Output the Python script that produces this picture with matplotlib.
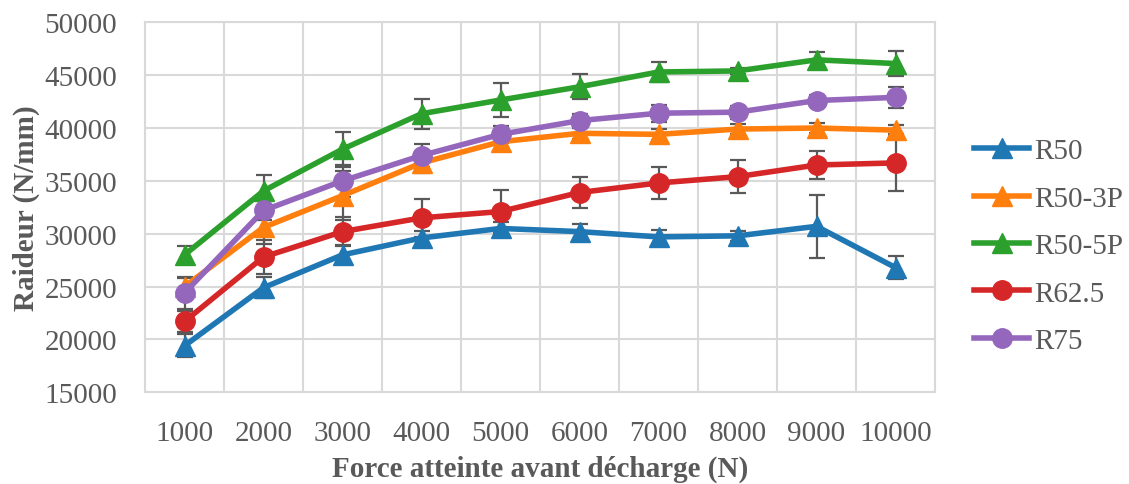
import matplotlib.pyplot as plt
import numpy as np

plt.rcParams['font.family'] = ['Liberation Serif', 'DejaVu Serif']

forces = ['1000', '2000', '3000', '4000', '5000', '6000', '7000', '8000', '9000', '10000']

r50 = [19400, 24900, 28000, 29600, 30500, 30200, 29700, 29800, 30700, 26800]
r50_3p = [25000, 30600, 33600, 36700, 38700, 39500, 39400, 39900, 40000, 39800]
r50_5p = [28000, 34050, 38000, 41350, 42650, 43900, 45300, 45400, 46450, 46100]
r62_5 = [21700, 27800, 30200, 31500, 32100, 33900, 34800, 35400, 36500, 36700]
r75 = [24400, 32200, 35000, 37400, 39400, 40700, 41400, 41500, 42600, 42900]

r50_err = [1100, 1000, 900, 700, 600, 700, 700, 500, 3000, 1100]
r50_3p_err = [800, 1600, 2300, 1000, 700, 500, 500, 500, 500, 500]
r50_5p_err = [800, 1500, 1650, 1400, 1650, 1200, 900, 300, 700, 1150]
r62_5_err = [1000, 1600, 1400, 1800, 2000, 1500, 1500, 1550, 1300, 2700]
r75_err = [1500, 900, 1500, 1100, 800, 600, 800, 600, 500, 1000]

names = ['R50', 'R50-3P', 'R50-5P', 'R62.5', 'R75']
series = [r50, r50_3p, r50_5p, r62_5, r75]
errors = [r50_err, r50_3p_err, r50_5p_err, r62_5_err, r75_err]
colors = ['#1f77b4', '#ff7f0e', '#2ca02c', '#d62728', '#9467bd']
markers = ['^', '^', '^', 'o', 'o']

text_col = '#595959'
grid_col = '#d9d9d9'
fs = 21

fig = plt.figure(figsize=(11.29, 4.85), dpi=100)
ax = fig.add_axes([145 / 1129, 1 - 393.3 / 485, 790 / 1129, 370 / 485])

x = np.arange(len(forces))
for vals, err, col, mk, name in zip(series, errors, colors, markers, names):
    ax.errorbar(x, vals, yerr=err, fmt='none', ecolor=text_col, elinewidth=1.6,
                capsize=6, capthick=1.6, zorder=2)
    ax.plot(x, vals, color=col, marker=mk, markersize=14, linewidth=4,
            label=name, zorder=3)

ax.set_xlim(-0.5, len(forces) - 0.5)
ax.set_ylim(15000, 50000)
ax.set_yticks(np.arange(15000, 50001, 5000))
ax.set_xticks(x)
ax.set_xticklabels(forces)

# gridlines between categories, like the original
for b in np.arange(-0.5, len(forces), 1.0):
    ax.axvline(b, color=grid_col, linewidth=1.5, zorder=0)
ax.yaxis.grid(True, color=grid_col, linewidth=1.5, zorder=0)
ax.set_axisbelow(True)
for s in ax.spines.values():
    s.set_color(grid_col)
    s.set_linewidth(1.5)

ax.tick_params(axis='both', length=0, labelsize=fs, colors=text_col)
ax.tick_params(axis='x', pad=20)
ax.tick_params(axis='y', pad=20)

ax.set_xlabel('Force atteinte avant décharge (N)', fontsize=fs, fontweight='bold',
              color=text_col, labelpad=6)
ax.set_ylabel('Raideur (N/mm)', fontsize=fs, fontweight='bold', color=text_col,
              labelpad=3)

leg = fig.legend(loc='center left', bbox_to_anchor=(974 / 1129, 1 - 247 / 485),
                 frameon=False, fontsize=fs, handlelength=1.9, handletextpad=0.15,
                 labelspacing=0.72, borderpad=0, borderaxespad=0)
for t in leg.get_texts():
    t.set_color(text_col)

fig.savefig('out.png', dpi=100)
